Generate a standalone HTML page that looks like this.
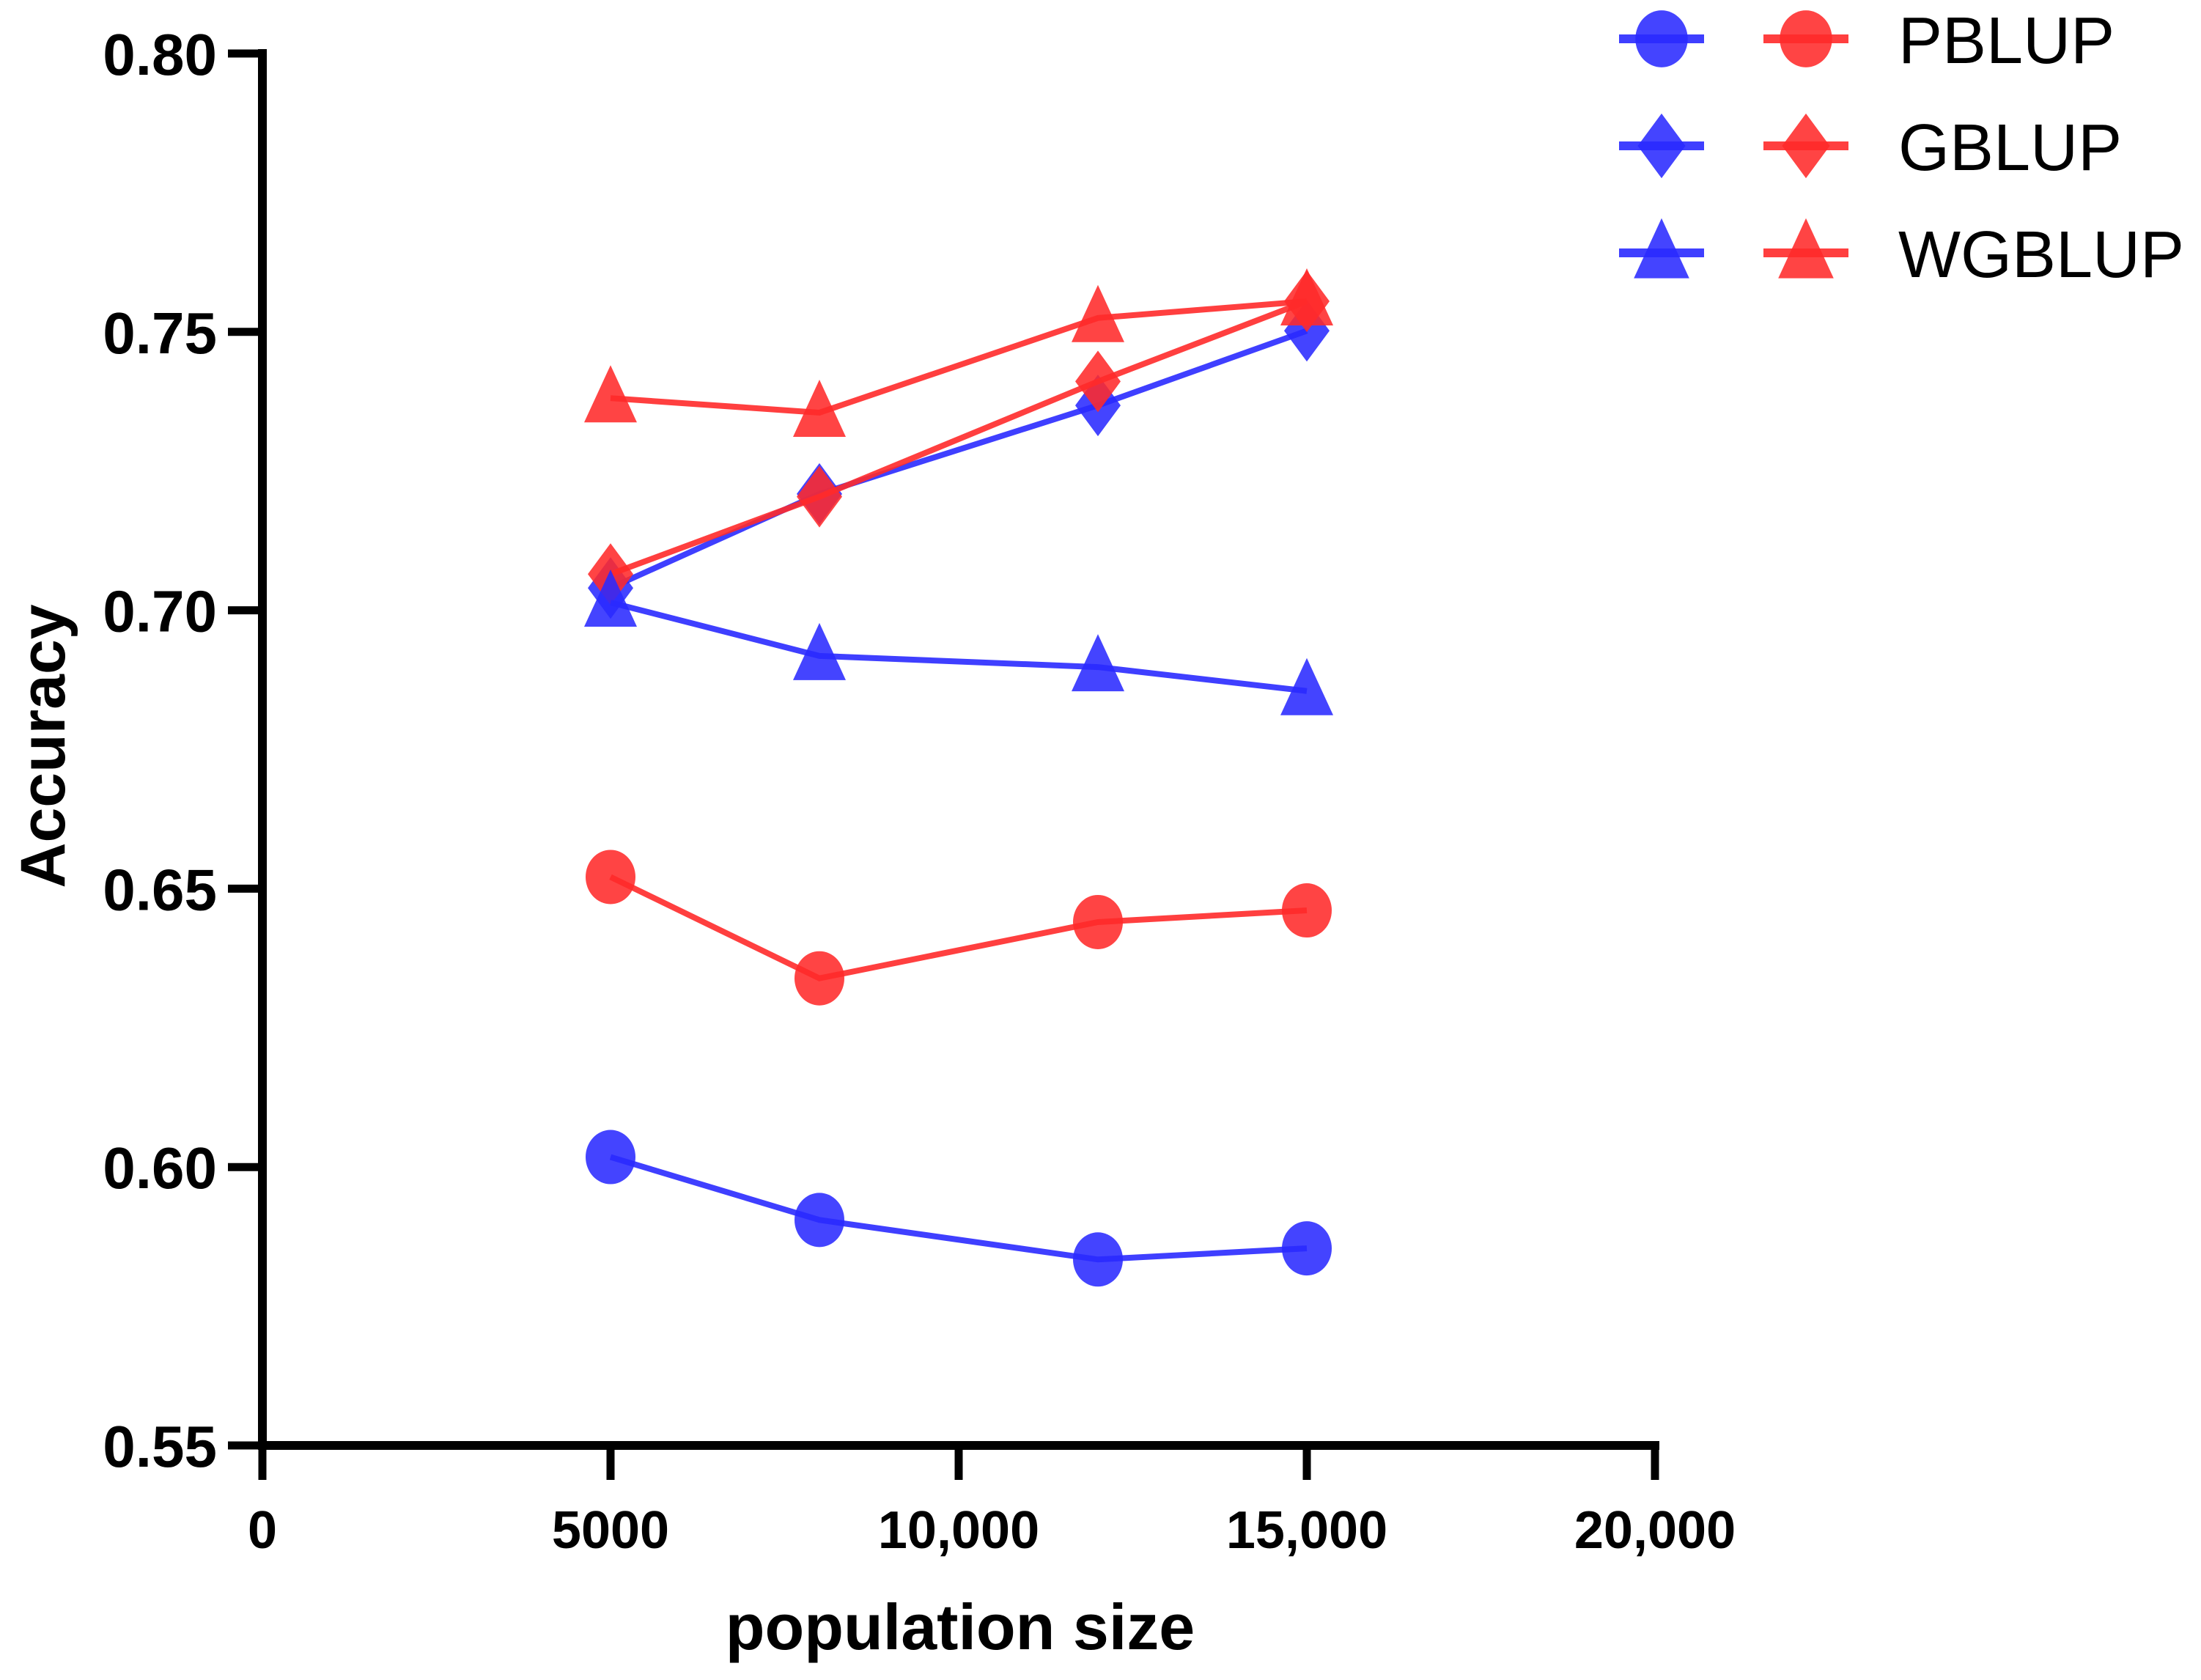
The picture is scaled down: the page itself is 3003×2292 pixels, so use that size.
<!DOCTYPE html>
<html><head><meta charset="utf-8"><style>
html,body{margin:0;padding:0;background:#fff;}
svg{display:block;font-family:"Liberation Sans",Arial,sans-serif;}
</style></head><body>
<svg id="chart" width="3003" height="2292" viewBox="0 0 3003 2292" xmlns="http://www.w3.org/2000/svg">
<g id="axes"></g>
<g id="series"></g>
<g id="legend"></g>
</svg>
<script>
const xValues = [5000, 8000, 12000, 15000];
const pblupBlue = [0.6018, 0.5905, 0.5834, 0.5854];
const pblupRed = [0.6521, 0.6339, 0.6440, 0.6461];
const gblupBlue = [0.7040, 0.7209, 0.7368, 0.7502];
const gblupRed = [0.7065, 0.7204, 0.7411, 0.7555];
const wgblupBlue = [0.7014, 0.6918, 0.6898, 0.6855];
const wgblupRed = [0.7381, 0.7355, 0.7525, 0.7555];
const xTicks = [0, 5000, 10000, 15000, 20000];
const xTickLabels = ["0", "5000", "10,000", "15,000", "20,000"];
const yTicks = [0.55, 0.60, 0.65, 0.70, 0.75, 0.80];
const yTickLabels = ["0.55", "0.60", "0.65", "0.70", "0.75", "0.80"];
const legendLabels = ["PBLUP", "GBLUP", "WGBLUP"];

const NS = "http://www.w3.org/2000/svg";
const X0 = 358, XPX = 1900 / 20000;
const Y0 = 1972, YTOP = 73;
function xs(v){ return X0 + v * XPX; }
function ys(v){ return Y0 - (v - 0.55) / 0.25 * (Y0 - YTOP); }
function mk(tag, attrs, parent){
  const el = document.createElementNS(NS, tag);
  for (const k in attrs) el.setAttribute(k, attrs[k]);
  parent.appendChild(el);
  return el;
}
const axes = document.getElementById("axes");
const series = document.getElementById("series");
const legend = document.getElementById("legend");

let yl = mk("line", {x1:X0, y1:YTOP-6, x2:X0, y2:Y0+6, stroke:"#000","stroke-width":12}, axes);


let xl = mk("line", {x1:X0-6, y1:Y0, x2:xs(20000)+6, y2:Y0, stroke:"#000","stroke-width":12}, axes);


yTicks.forEach((t,i)=>{
  const y = ys(t);
  const tk = mk("line", {x1:311, y1:y, x2:X0, y2:y, stroke:"#000","stroke-width":11}, axes);
  
  
  const tx = mk("text", {x:296, y:y+29, "text-anchor":"end","font-size":80,"font-weight":"bold",fill:"#000"}, axes);
  tx.textContent = yTickLabels[i];
  
  
});
xTicks.forEach((t,i)=>{
  const x = xs(t);
  const tk = mk("line", {x1:x, y1:Y0, x2:x, y2:2019, stroke:"#000","stroke-width":11}, axes);
  
  
  const tx = mk("text", {x:x, y:2112, "text-anchor":"middle","font-size":72,"font-weight":"bold",fill:"#000"}, axes);
  tx.textContent = xTickLabels[i];
  
  
});
let xt = mk("text", {x:1310, y:2250, "text-anchor":"middle","font-size":88,"font-weight":"bold",fill:"#000"}, axes);
xt.textContent = "population size";


let yt = mk("text", {x:0, y:0, transform:"translate(88,1018) rotate(-90)", "text-anchor":"middle","font-size":86,"font-weight":"bold",fill:"#000"}, axes);
yt.textContent = "Accuracy";



const BLUE = "#2a2aff", RED = "#ff2a2a";
function marker(shape, cx, cy, color, parent, s){
  s = s || 1;
  let el;
  if (shape === "circle") el = mk("ellipse", {cx:cx, cy:cy, rx:34*s, ry:37*s, fill:color, "fill-opacity":0.88}, parent);
  else if (shape === "diamond") el = mk("polygon", {points:`${cx},${cy-42*s} ${cx+31*s},${cy} ${cx},${cy+42*s} ${cx-31*s},${cy}`, fill:color, "fill-opacity":0.88}, parent);
  else el = mk("polygon", {points:`${cx},${cy-45*s} ${cx+36*s},${cy+33*s} ${cx-36*s},${cy+33*s}`, fill:color, "fill-opacity":0.88}, parent);
  return el;
}
const allSeries = [
  {name:"pblup-blue", vals:pblupBlue, color:BLUE, shape:"circle"},
  {name:"pblup-red", vals:pblupRed, color:RED, shape:"circle"},
  {name:"gblup-blue", vals:gblupBlue, color:BLUE, shape:"diamond"},
  {name:"gblup-red", vals:gblupRed, color:RED, shape:"diamond"},
  {name:"wgblup-blue", vals:wgblupBlue, color:BLUE, shape:"triangle"},
  {name:"wgblup-red", vals:wgblupRed, color:RED, shape:"triangle"}
];
allSeries.forEach(s=>{
  const g = mk("g", {}, series);
  
  
  const pts = s.vals.map((v,i)=>xs(xValues[i])+","+ys(v)).join(" ");
  const pl = mk("polyline", {points:pts, fill:"none", stroke:s.color, "stroke-width":8, "stroke-opacity":0.9}, g);
  
  
  s.vals.forEach((v,i)=>{
    const m = marker(s.shape, xs(xValues[i]), ys(v), s.color, g);
    
    
  });
});

const shapes = ["circle","diamond","triangle"];
legendLabels.forEach((lab,i)=>{
  const cy = 53 + i*146;
  const g = mk("g", {}, legend);
  
  
  [[2267,BLUE],[2464,RED]].forEach(([cx,col])=>{
    const ln = mk("line", {x1:cx-58, y1:cy, x2:cx+58, y2:cy, stroke:col, "stroke-width":12, "stroke-opacity":0.9}, g);
    
    
    const m = marker(shapes[i], cx, cy, col, g, 1.05);
    
    
  });
  const t = mk("text", {x:2590, y:cy+33, "font-size":90, fill:"#000"}, g);
  t.textContent = lab;
  
  
});
</script>
</body></html>
